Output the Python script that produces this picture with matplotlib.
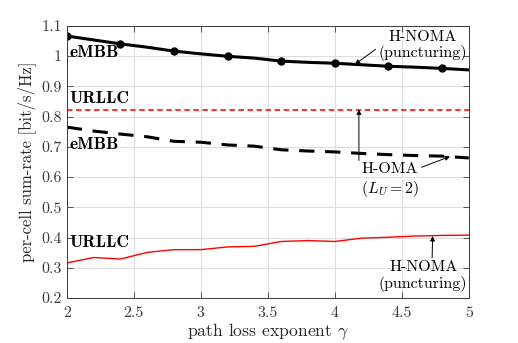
import matplotlib
matplotlib.use('Agg')
import matplotlib.pyplot as plt
import numpy as np

plt.rcParams['font.family'] = 'serif'
plt.rcParams['font.serif'] = ['cmr10']
plt.rcParams['mathtext.fontset'] = 'cm'
plt.rcParams['axes.formatter.use_mathtext'] = True

# data
gamma = [2.0, 2.2, 2.4, 2.6, 2.8, 3.0, 3.2, 3.4, 3.6, 3.8, 4.0, 4.2, 4.4, 4.6, 4.8, 5.0]
embb_hnoma = [1.066, 1.053, 1.040, 1.029, 1.016, 1.007, 0.999, 0.993, 0.983, 0.979,
              0.976, 0.971, 0.966, 0.963, 0.959, 0.954]
urllc_homa = [0.823] * 16
embb_homa = [0.765, 0.752, 0.742, 0.733, 0.718, 0.715, 0.706, 0.702, 0.690, 0.686,
             0.683, 0.678, 0.674, 0.671, 0.669, 0.663]
urllc_hnoma = [0.316, 0.334, 0.329, 0.351, 0.360, 0.360, 0.369, 0.371, 0.387, 0.390,
               0.387, 0.398, 0.401, 0.405, 0.407, 0.408]

xticks = [2, 2.5, 3, 3.5, 4, 4.5, 5]
xticklabels = ['2', '2.5', '3', '3.5', '4', '4.5', '5']
yticks = [0.2, 0.3, 0.4, 0.5, 0.6, 0.7, 0.8, 0.9, 1.0, 1.1]
yticklabels = ['0.2', '0.3', '0.4', '0.5', '0.6', '0.7', '0.8', '0.9', '1', '1.1']

fig = plt.figure(figsize=(5.18, 3.43), dpi=100)
ax = fig.add_axes([0.129, 0.131, 0.776, 0.794])

ax.plot(gamma, embb_hnoma, '-', color='k', lw=2.2, marker='o', ms=5, markevery=2)
ax.plot(gamma, urllc_homa, '--', color='#ff2020', lw=1.3, dashes=(3, 2))
ax.plot(gamma, embb_homa, '--', color='k', lw=2.2, dashes=(5, 3.5))
ax.plot(gamma, urllc_hnoma, '-', color='#ff0000', lw=1.0)

ax.set_xlim(2, 5)
ax.set_ylim(0.2, 1.1)
ax.set_xticks(xticks)
ax.set_xticklabels(xticklabels)
ax.set_yticks(yticks)
ax.set_yticklabels(yticklabels)
ax.grid(True, color='#dedede', lw=0.8)
ax.set_axisbelow(True)
for s in ax.spines.values():
    s.set_color('#3a3a3a')
    s.set_linewidth(0.7)
ax.tick_params(direction='in', length=4, width=0.6, colors='#3a3a3a',
               labelsize=11.5, top=True, right=True, labeltop=False, labelright=False)
ax.tick_params(axis='x', pad=6)

ax.set_xlabel(r'path loss exponent $\gamma$', fontsize=12.7, color='#262626', labelpad=1)
ax.set_ylabel('per-cell sum-rate [bit/s/Hz]', fontsize=12, color='#262626', labelpad=4)

bold = dict(fontfamily='cmb10', fontsize=12.5, color='k')
ax.text(2.02, 1.013, 'eMBB', va='center', ha='left', **bold)
ax.text(2.02, 0.859, 'URLLC', va='center', ha='left', **bold)
ax.text(2.02, 0.709, 'eMBB', va='center', ha='left', **bold)
ax.text(2.02, 0.383, 'URLLC', va='center', ha='left', **bold)

arr = dict(arrowstyle='-|>', color='k', lw=0.7, mutation_scale=7)
ax.annotate('H-NOMA\n(puncturing)', xy=(4.15, 0.972), xytext=(4.655, 1.034),
            ha='center', va='center', fontsize=11.5, linespacing=1.15,
            arrowprops=dict(arr, shrinkA=0, shrinkB=0, relpos=(0.0, 0.45)))
ax.annotate('', xy=(4.18, 0.823), xytext=(4.18, 0.655),
            arrowprops=dict(arr, shrinkA=0, shrinkB=0))
ax.annotate('H-OMA\n' + r'$(L_U=2)$', xy=(4.86, 0.668), xytext=(4.41, 0.588),
            ha='center', va='center', fontsize=11.5, linespacing=1.15,
            arrowprops=dict(arr, shrinkA=0, shrinkB=0, relpos=(0.93, 0.8)))
ax.annotate('H-NOMA\n(puncturing)', xy=(4.73, 0.405), xytext=(4.66, 0.272),
            ha='center', va='center', fontsize=11.5, linespacing=1.15,
            arrowprops=dict(arr, shrinkA=0, shrinkB=0, relpos=(0.6, 1.0)))

fig.savefig('out.png', dpi=100)
